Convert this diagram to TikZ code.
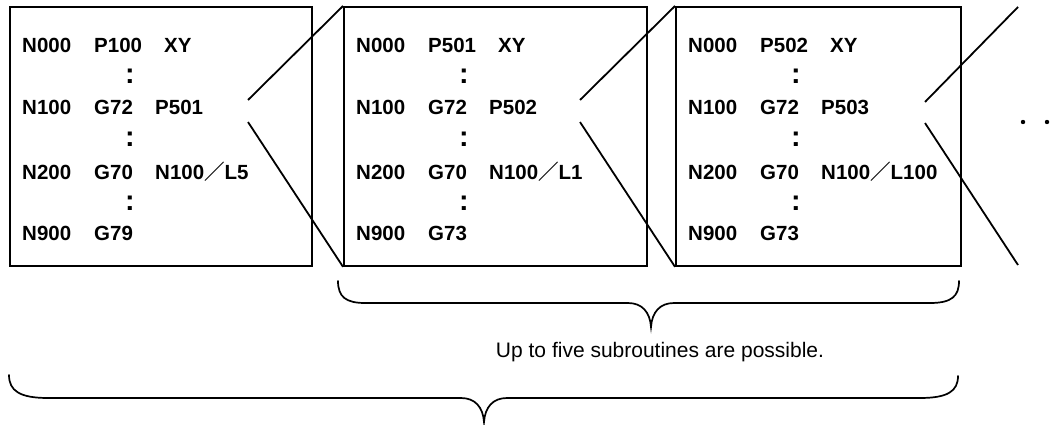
\documentclass[tikz,border=0pt]{standalone}
\usepackage{fontspec}
\setmainfont{Liberation Sans}
\newfontfamily\cjk{Noto Sans CJK JP}
\tikzset{
  box/.style={draw, line width=1.8pt, anchor=north west, minimum height=259pt, inner sep=0pt},
  code/.style={anchor=base west, inner sep=0pt, font=\fontsize{20.5}{24}\selectfont\bfseries},
  vdots/.style={anchor=center, inner sep=0pt, font=\fontsize{20.5}{24}\selectfont\bfseries},
  link/.style={line width=1.8pt},
  brace/.style={line width=1.7pt, line cap=round},
  note/.style={anchor=base, inner sep=0pt, font=\fontsize{21}{25}\selectfont},
}
\newcommand\pbox[7]{%
  \node[box, minimum width=#3pt] (#1) at (#2,6) {};
  \node[code] (#1n1) at (#2+13,53) {N000};
  \node[code] (#1p1) at (#2+85,53) {#4};
  \node[code] (#1xy) at (#2+155,53) {XY};
  \node[vdots] (#1d1) at (#2+121,76) {\scalebox{1.4}{:}};
  \node[code] (#1n2) at (#2+13,115) {N100};
  \node[code] (#1g2) at (#2+85,115) {G72};
  \node[code] (#1p2) at (#2+146,115) {#5};
  \node[vdots] (#1d2) at (#2+121,139) {\scalebox{1.4}{:}};
  \node[code] (#1n3) at (#2+13,179) {N200};
  \node[code] (#1g3) at (#2+85,179) {G70};
  \node[code] (#1l3) at (#2+146,179) {N100{\cjk ／}#6};
  \node[vdots] (#1d3) at (#2+121,203) {\scalebox{1.4}{:}};
  \node[code] (#1n4) at (#2+13,240) {N900};
  \node[code] (#1g4) at (#2+85,240) {#7};
}
\begin{document}
\begin{tikzpicture}[x=1pt, y=-1pt]
\useasboundingbox (0,0) rectangle (1063,425);
\pbox{A}{9}{302}{P100}{P501}{L5}{G79}
\pbox{B}{343}{303}{P501}{P502}{L1}{G73}
\pbox{C}{675}{285}{P502}{P503}{L100}{G73}
% zoom connectors
\coordinate (A1) at (248,100);
\coordinate (A2) at (248,122);
\coordinate (B1) at (580,100);
\coordinate (B2) at (580,122);
\coordinate (C1) at (925,102);
\coordinate (C2) at (925,123);
\coordinate (D1) at (1018,7);
\coordinate (D2) at (1018,265);
\draw[link] (A1) -- (B.north west);
\draw[link] (A2) -- (B.south west);
\draw[link] (B1) -- (C.north west);
\draw[link] (B2) -- (C.south west);
\draw[link] (C1) -- (D1);
\draw[link] (C2) -- (D2);
% continuation dots
\fill (1023,122) circle (2.2pt);
\fill (1047,122) circle (2.2pt);
% upper brace
\draw[brace] (338,281) .. controls (338,297) and (346,303) .. (365,303)
  -- (628,303) .. controls (642,303) and (650,312) .. (651,327)
  .. controls (652,312) and (660,303) .. (674,303)
  -- (930,303) .. controls (952,303) and (959,296) .. (959,281);
\node[note] (txt) at (660,357) {Up to five subroutines are possible.};
% lower brace
\draw[brace] (9,375) .. controls (9,391) and (20,398) .. (48,398)
  -- (461,398) .. controls (475,398) and (483,407) .. (484,422)
  .. controls (485,407) and (493,398) .. (507,398)
  -- (920,398) .. controls (948,398) and (958,391) .. (958,376);
\end{tikzpicture}
\end{document}
